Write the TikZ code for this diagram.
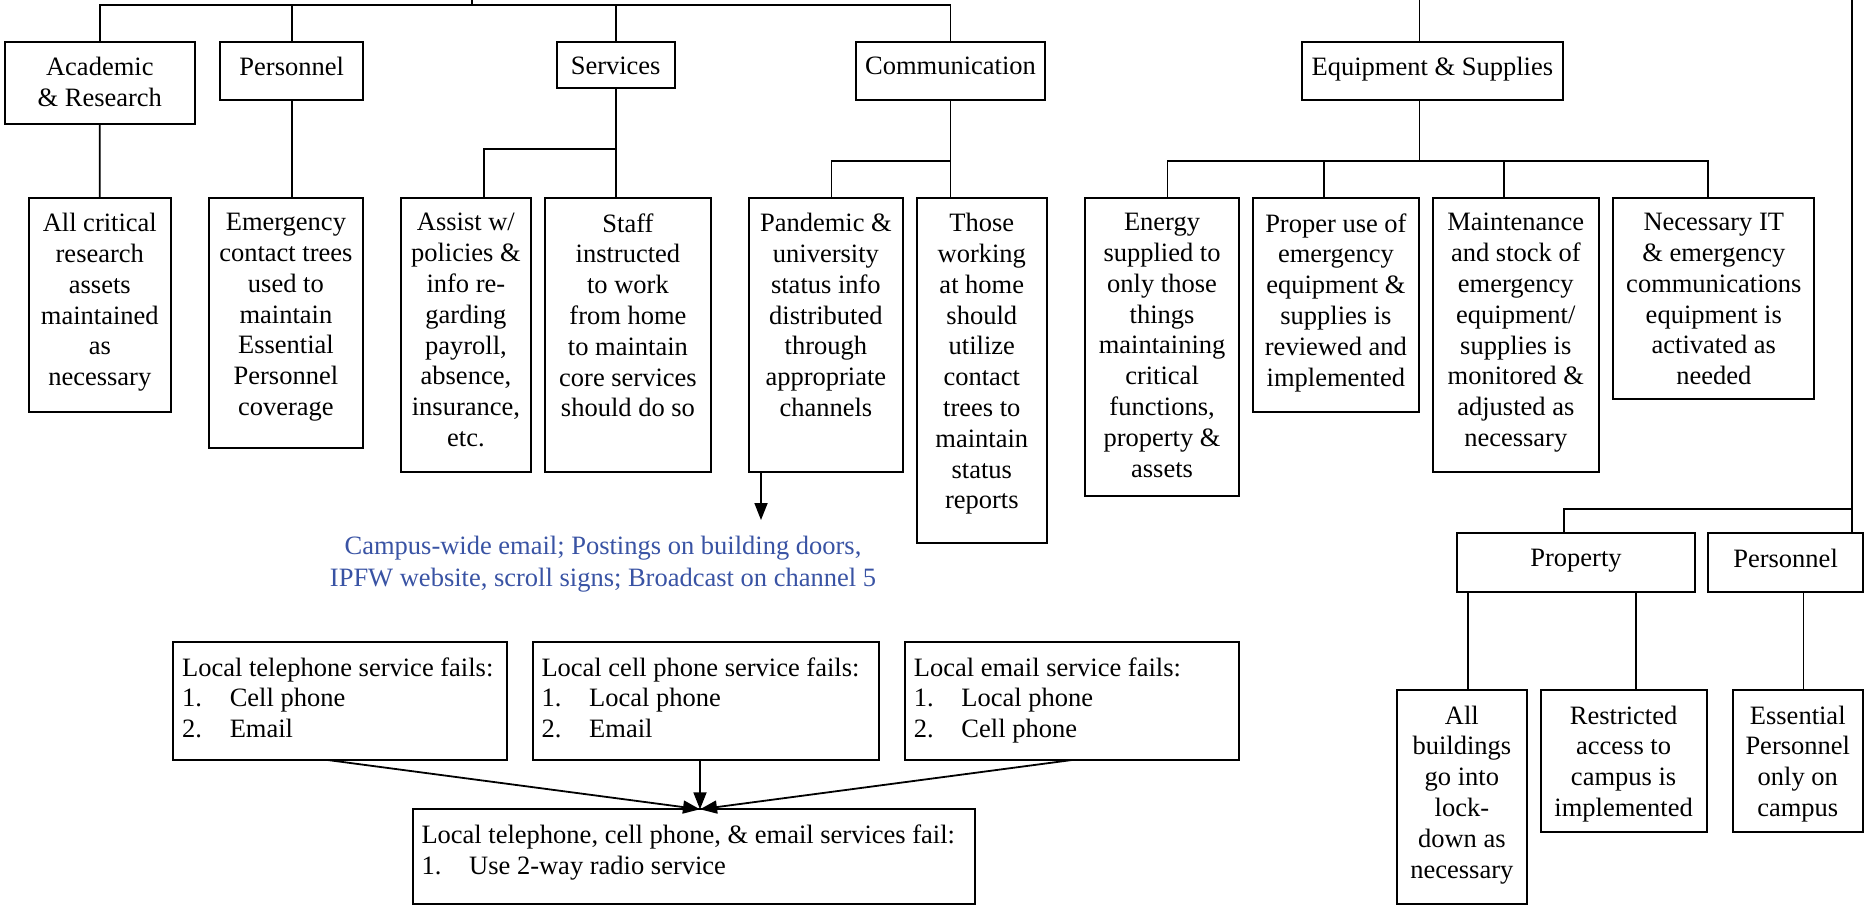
\documentclass[tikz,border=0pt]{standalone}
\usepackage{fontspec}
\setmainfont{Liberation Serif}
\usetikzlibrary{arrows.meta}
\definecolor{chanblue}{RGB}{57,83,164}
\newcommand{\itm}[1]{\makebox[47.7pt][l]{#1}}

\begin{document}
\begin{tikzpicture}[x=1pt, y=-1pt,
    box/.style={draw, line width=2pt, inner sep=0pt, outer sep=0pt, anchor=north west},
    boxtxt/.style={anchor=north, align=center, inner sep=0pt, yshift=-15.5pt, font=\fontsize{26.5}{30.8}\selectfont},
    listtxt/.style={anchor=north west, align=left, inner sep=0pt, xshift=8.6pt, yshift=-15.5pt, font=\fontsize{26.5}{30.8}\selectfont},
    chantxt/.style={anchor=north, align=center, inner sep=0pt, text=chanblue, font=\fontsize{26.5}{31.5}\selectfont},
    conn/.style={line width=1.8pt},
    arr/.style={conn, -{Triangle[width=13pt,length=17pt]}}]

    \useasboundingbox (0,0) rectangle (1864,907);

    % Top row
    \node[box, minimum width=189.8, minimum height=82.3, label={[boxtxt]north:{Academic\\ \& Research}}] (acad) at (4.9,41.7) {};
    \node[box, minimum width=142.6, minimum height=58.3, label={[boxtxt]north:{Personnel}}] (pers) at (220.4,41.7) {};
    \node[box, minimum width=118.1, minimum height=46.6, label={[boxtxt]north:{Services}}] (serv) at (556.6,41.7) {};
    \node[box, minimum width=189, minimum height=58.3, label={[boxtxt]north:{Communication}}] (comm) at (856,41.7) {};
    \node[box, minimum width=261.3, minimum height=58.3, label={[boxtxt]north:{Equipment \& Supplies}}] (equip) at (1301.7,41.7) {};

    % Second row
    \node[box, minimum width=142, minimum height=214, label={[boxtxt]north:{All critical\\ research\\ assets\\ maintained\\ as\\ necessary}}] (allcrit) at (28.8,197.7) {};
    \node[box, minimum width=154.2, minimum height=250, label={[boxtxt]north:{Emergency\\ contact trees\\ used to\\ maintain\\ Essential\\ Personnel\\ coverage}}] (emerg) at (208.8,197.7) {};
    \node[box, minimum width=129.8, minimum height=274, label={[boxtxt]north:{Assist w/\\ policies \&\\ info re-\\ garding\\ payroll,\\ absence,\\ insurance,\\ etc.}}] (assist) at (401,197.7) {};
    \node[box, minimum width=165.9, minimum height=274, label={[boxtxt]north:{Staff\\ instructed\\ to work\\ from home\\ to maintain\\ core services\\ should do so}}] (staff) at (545,197.7) {};
    \node[box, minimum width=154.2, minimum height=274, label={[boxtxt]north:{Pandemic \&\\ university\\ status info\\ distributed\\ through\\ appropriate\\ channels}}] (pand) at (748.8,197.7) {};
    \node[box, minimum width=130.4, minimum height=345.6, label={[boxtxt]north:{Those\\ working\\ at home\\ should\\ utilize\\ contact\\ trees to\\ maintain\\ status\\ reports}}] (those) at (916.6,197.7) {};
    \node[box, minimum width=153.9, minimum height=298, label={[boxtxt]north:{Energy\\ supplied to\\ only those\\ things\\ maintaining\\ critical\\ functions,\\ property \&\\ assets}}] (energy) at (1085.1,197.7) {};
    \node[box, minimum width=166, minimum height=214, label={[boxtxt]north:{Proper use of\\ emergency\\ equipment \&\\ supplies is\\ reviewed and\\ implemented}}] (proper) at (1252.9,197.7) {};
    \node[box, minimum width=166, minimum height=274, label={[boxtxt]north:{Maintenance\\ and stock of\\ emergency\\ equipment/\\ supplies is\\ monitored \&\\ adjusted as\\ necessary}}] (maint) at (1432.8,197.7) {};
    \node[box, minimum width=201.2, minimum height=201.3, label={[boxtxt]north:{Necessary IT\\ \& emergency\\ communications\\ equipment is\\ activated as\\ needed}}] (it) at (1613.2,197.7) {};

    % Channels
    \node[chantxt] (chan) at (603,536) {Campus-wide email; Postings on building doors,\\ IPFW website, scroll signs; Broadcast on channel 5};

    % Fallback boxes
    \node[box, minimum width=333.7, minimum height=118.3, label={[listtxt]north west:{Local telephone service fails:\\ \itm{1.}Cell phone\\ \itm{2.}Email}}] (tel) at (173.3,641.7) {};
    \node[box, minimum width=346.6, minimum height=118.3, label={[listtxt]north west:{Local cell phone service fails:\\ \itm{1.}Local phone\\ \itm{2.}Email}}] (cell) at (532.7,641.7) {};
    \node[box, minimum width=334, minimum height=118.3, label={[listtxt]north west:{Local email service fails:\\ \itm{1.}Local phone\\ \itm{2.}Cell phone}}] (email) at (905,641.7) {};
    \node[box, minimum width=562.3, minimum height=94.7, label={[listtxt]north west:{Local telephone, cell phone, \& email services fail:\\ \itm{1.}Use 2-way radio service}}] (final) at (412.7,809.3) {};

    % Right branch
    \node[box, minimum width=238, minimum height=58.4, label={[boxtxt]north:{Property}}] (prop) at (1457,533.3) {};
    \node[box, minimum width=154.6, minimum height=58.4, label={[boxtxt]north:{Personnel}}] (pers2) at (1708.3,533.3) {};
    \node[box, minimum width=129.7, minimum height=214, label={[boxtxt]north:{All\\ buildings\\ go into\\ lock-\\ down as\\ necessary}}] (allbuild) at (1397,690) {};
    \node[box, minimum width=166, minimum height=141.7, label={[boxtxt]north:{Restricted\\ access to\\ campus is\\ implemented}}] (restr) at (1540.6,690) {};
    \node[box, minimum width=130.3, minimum height=141.7, label={[boxtxt]north:{Essential\\ Personnel\\ only on\\ campus}}] (essen) at (1732.6,690) {};

    % Join points
    \coordinate (top) at (472,0);
    \coordinate (topbar) at (472,4.7);
    \coordinate (servbar) at (0,149);
    \coordinate (commbar) at (0,161);
    \coordinate (equiptop) at (1419.5,0);
    \coordinate (equipout) at ([xshift=-12.8pt]equip.south);
    \coordinate (assistin) at ([xshift=17.8pt]assist.north);
    \coordinate (pandin) at ([xshift=5.6pt]pand.north);
    \coordinate (energyin) at ([xshift=5.5pt]energy.north);
    \coordinate (properin) at ([xshift=-12.1pt]proper.north);
    \coordinate (maintin) at ([xshift=-12.1pt]maint.north);
    \coordinate (itin) at ([xshift=-6pt]it.north);
    \coordinate (righttop) at (1851.9,0);
    \coordinate (rightbar) at (0,509);
    \coordinate (propin) at ([xshift=-11.8pt]prop.north);
    \coordinate (allbin) at ([xshift=6pt]allbuild.north);
    \coordinate (restin) at ([xshift=12.1pt]restr.north);
    \coordinate (essenin) at ([xshift=5.75pt]essen.north);
    \coordinate (chanin) at (761,520);
    \coordinate (join) at ([xshift=6.15pt]final.north);

    % Lines
    \draw[conn] (acad.north) |- (comm.north |- topbar) -- (comm.north);
    \draw[conn] (top) -- (topbar);
    \draw[conn] (pers.north) -- (pers.north |- topbar);
    \draw[conn] (serv.north) -- (serv.north |- topbar);

    \draw[conn] (acad.south) -- (allcrit.north);
    \draw[conn] (pers.south) -- (pers.south |- emerg.north);
    \draw[conn] (serv.south) -- (serv.south |- staff.north);
    \draw[conn] (serv.south |- servbar) -| (assistin);
    \draw[conn] (comm.south) -- (comm.south |- those.north);
    \draw[conn] (comm.south |- commbar) -| (pandin);

    \draw[conn] (equiptop) -- (equiptop |- equip.north);
    \draw[conn] (equipout) -- (equipout |- commbar);
    \draw[conn] (energyin) |- (itin |- commbar) -- (itin);
    \draw[conn] (properin |- commbar) -- (properin);
    \draw[conn] (maintin |- commbar) -- (maintin);

    \draw[conn] (righttop) -- (righttop |- pers2.north);
    \draw[conn] (righttop |- rightbar) -| (propin);
    \draw[conn] (allbin |- prop.south) -- (allbin);
    \draw[conn] (restin |- prop.south) -- (restin);
    \draw[conn] (essenin |- pers2.south) -- (essenin);

    % Arrows
    \draw[arr] (pand.south -| chanin) -- (chanin);
    \draw[arr] ([xshift=-12.5pt]tel.south) -- (join);
    \draw[arr] (cell.south -| join) -- (join);
    \draw[arr] (email.south) -- (join);

\end{tikzpicture}
\end{document}
